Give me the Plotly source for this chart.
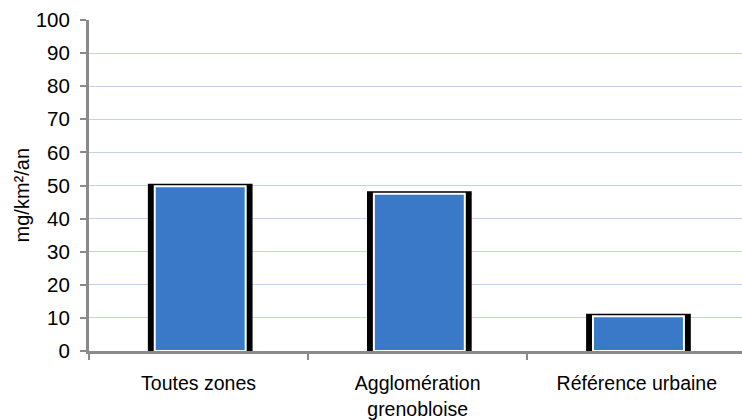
import plotly.graph_objects as go

# Flux annuels par zone (mg/km²/an)
categories = ["Toutes zones", "Agglomération<br>grenobloise", "Référence urbaine"]
values = [49.8, 47.5, 10.5]
y_ticks = [0, 10, 20, 30, 40, 50, 60, 70, 80, 90, 100]

FONT = "Liberation Sans, Arial, sans-serif"
AXIS_GREY = "#8a8a8a"

fig = go.Figure()

# Black frame drawn behind each bar
fig.add_trace(go.Bar(
    x=categories, y=values, width=0.455, offset=-0.22,
    marker=dict(color="#000000", line=dict(color="#000000", width=5)),
    hoverinfo="skip", showlegend=False,
))

# Blue bar with a white rim
fig.add_trace(go.Bar(
    x=categories, y=values, width=0.415, offset=-0.2,
    marker=dict(color="#3a78c8", line=dict(color="#ffffff", width=2)),
    showlegend=False,
))

fig.update_layout(
    width=742, height=420,
    margin=dict(l=89, r=0, t=20, b=69),
    paper_bgcolor="white", plot_bgcolor="white",
    barmode="overlay",
    font=dict(family=FONT, size=19, color="#000000"),
    xaxis=dict(
        range=[-0.5, 2.48],
        showline=True, linecolor=AXIS_GREY, linewidth=3,
        ticks="outside", tickson="boundaries", ticklen=6, tickwidth=2,
        tickcolor=AXIS_GREY, showgrid=False,
        ticklabelstandoff=13,
        tickfont=dict(family=FONT, size=19.5),
    ),
    yaxis=dict(
        range=[0, 100], tickvals=y_ticks,
        showline=True, linecolor=AXIS_GREY, linewidth=3,
        ticks="outside", ticklen=6, tickwidth=2, tickcolor=AXIS_GREY,
        showgrid=True, gridcolor="#c2d3f0", gridwidth=1,
        zeroline=False,
        ticklabelstandoff=6,
        tickfont=dict(family=FONT, size=20.5),
    ),
    annotations=[dict(
        text="mg/km²/an", textangle=-90,
        xref="paper", yref="paper", x=0, y=0.47,
        xanchor="center", yanchor="middle", xshift=-67,
        showarrow=False, font=dict(family=FONT, size=20),
    )],
)

fig.write_html("out.html")
